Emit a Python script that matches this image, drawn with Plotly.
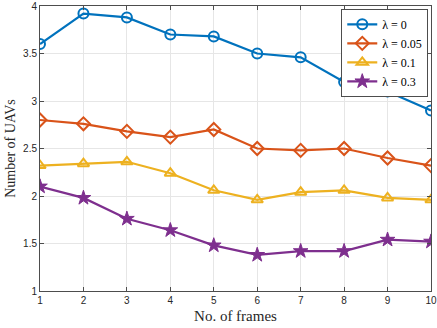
import plotly.graph_objects as go

frames = [1, 2, 3, 4, 5, 6, 7, 8, 9, 10]
uav_l0 = [3.6, 3.92, 3.88, 3.7, 3.68, 3.5, 3.46, 3.2, 3.1, 2.9]
uav_l005 = [2.8, 2.76, 2.68, 2.62, 2.7, 2.5, 2.48, 2.5, 2.4, 2.32]
uav_l01 = [2.32, 2.34, 2.36, 2.24, 2.06, 1.96, 2.04, 2.06, 1.98, 1.96]
uav_l03 = [2.1, 1.98, 1.76, 1.64, 1.48, 1.38, 1.42, 1.42, 1.54, 1.52]
names = ["λ = 0", "λ = 0.05", "λ = 0.1", "λ = 0.3"]

colors = ["#0072BD", "#D95319", "#EDB120", "#7E2F8E"]
symbols = ["circle-open", "diamond-open", "triangle-up-open", "star"]

fig = go.Figure()
for ys, name, c, s in zip([uav_l0, uav_l005, uav_l01, uav_l03], names, colors, symbols):
    fig.add_trace(go.Scatter(
        x=frames, y=ys, name=name, mode="lines+markers",
        line=dict(color=c, width=2.2),
        marker=dict(symbol=s, size=10 if s != "star" else 11, color=c,
                    line=dict(color=c, width=2 if s != "star" else 1)),
    ))

axis_style = dict(
    showline=True, linecolor="#4d4d4d", linewidth=1, mirror="ticks",
    ticks="inside", ticklen=4, tickcolor="#4d4d4d",
    showgrid=True, gridcolor="#e6e6e6", gridwidth=1, zeroline=False,
    automargin=False,
    tickfont=dict(family="Liberation Sans, Arial", size=10, color="#262626"),
)

fig.update_xaxes(range=[1, 10], dtick=1,
                 title=dict(text="No. of frames", standoff=5,
                            font=dict(family="Liberation Serif, serif", size=15, color="#262626")),
                 **axis_style)
fig.update_yaxes(range=[1, 4], dtick=0.5,
                 title=dict(text="Number of UAVs", standoff=4,
                            font=dict(family="Liberation Serif, serif", size=14, color="#262626")),
                 **axis_style)

fig.update_layout(
    width=437, height=328,
    margin=dict(l=40, r=6, t=6, b=37),
    plot_bgcolor="white", paper_bgcolor="white",
    legend=dict(x=0.993, y=0.99, xanchor="right", yanchor="top",
                bgcolor="white", bordercolor="#4d4d4d", borderwidth=1,
                font=dict(family="Liberation Serif, serif", size=12, color="#000"),
                tracegroupgap=0, itemwidth=30),
)

# page body has a default 8px margin; drop it so the figure sits at the corner
fig.write_html("out.html", config={"displayModeBar": False},
               post_script="document.body.style.margin='0';")
